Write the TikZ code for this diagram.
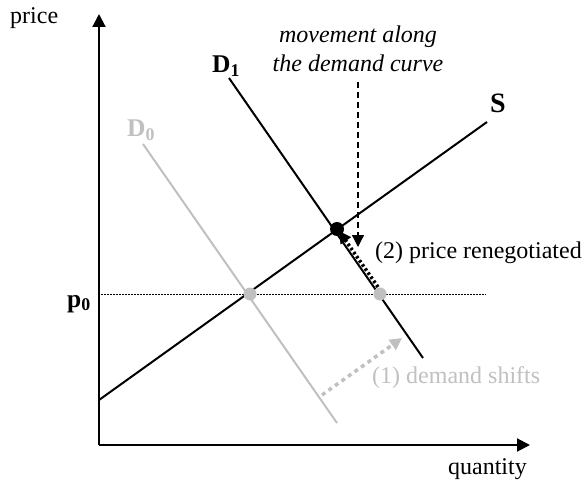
\documentclass[tikz,border=0pt]{standalone}
\usepackage{fontspec}
\setmainfont{Liberation Serif}
\usetikzlibrary{arrows.meta}
\definecolor{lgray}{RGB}{192,192,192}
\begin{document}
\begin{tikzpicture}[x=1pt,y=-1pt,
  axis/.style={line width=2pt,-{Triangle[length=13pt,width=13pt]}},
  curve/.style={line width=2pt},
  gcurve/.style={line width=2pt,lgray},
  lbl/.style={inner sep=0pt,font=\fontsize{24}{28}\selectfont},
  blbl/.style={inner sep=0pt,font=\fontsize{25.5}{30}\selectfont\bfseries},
  gdot/.style={circle,fill=lgray,inner sep=0pt,minimum size=13pt},
  bdot/.style={circle,fill=black,inner sep=0pt,minimum size=14pt},
  tip/.style={-{Triangle[length=12pt,width=12pt]}}
]
\useasboundingbox (0,0) rectangle (586,484);
% coordinates
\coordinate (O) at (99,445);
\coordinate (Ytop) at (99,14);
\coordinate (Xend) at (530,445);
\coordinate (S0) at (99,400);
\coordinate (S1) at (487,122);
\coordinate (D1a) at (229,78);
\coordinate (D1b) at (423,358);
\coordinate (D0a) at (143,144);
\coordinate (D0b) at (337,423);
\coordinate (P0a) at (101,294);
\coordinate (P0b) at (486,294);
\coordinate (M0) at (358,82);
\coordinate (M1) at (358,247);
\coordinate (R0) at (378,287);
\coordinate (R1) at (339,231);
\coordinate (G0) at (322,395);
\coordinate (G1) at (402,338);
% curves
\draw[gcurve] (D0a) -- (D0b);
\draw[curve] (D1a) -- (D1b);
\draw[curve] (S0) -- (S1);
\draw[line width=0.8pt,dash pattern=on 1.5pt off 1.5pt] (P0a) -- (P0b);
% axes
\draw[axis] (O) -- (Ytop);
\draw[axis] (O) -- (Xend);
% equilibrium dots
\node[gdot] (E0) at (250,294) {};
\node[gdot] (E2) at (380,294) {};
\node[bdot] (E1) at (337,229) {};
% arrows
\draw[line width=1.3pt,dash pattern=on 6pt off 4pt,tip] (M0) -- (M1);
\draw[line width=3.5pt,dash pattern=on 2.5pt off 2.5pt,tip] (R0) -- (R1);
\draw[line width=3.5pt,lgray,dash pattern=on 4pt off 4pt,tip] (G0) -- (G1);
% labels
\node[lbl,anchor=base west] (price) at (10,24) {price};
\node[lbl,anchor=base east] (qty) at (527,474) {quantity};
\node[blbl,anchor=base west] (lD1) at (212,73) {D\textsubscript{1}};
\node[blbl,anchor=base west,text=lgray] (lD0) at (127,137) {D\textsubscript{0}};
\node[blbl,anchor=base west,font=\fontsize{28}{32}\selectfont\bfseries] (lS) at (490,113) {S};
\node[blbl,anchor=base east] (lp0) at (91,307) {p\textsubscript{0}};
\node[lbl,anchor=base,font=\fontsize{24}{28}\selectfont\itshape] (mv1) at (358,43) {movement along};
\node[lbl,anchor=base,font=\fontsize{24}{28}\selectfont\itshape] (mv2) at (358,72) {the demand curve};
\node[lbl,anchor=base west] (reneg) at (375,258) {(2) price renegotiated};
\node[lbl,anchor=base west,text=lgray] (shift) at (372,383) {(1) demand shifts};
\end{tikzpicture}
\end{document}
